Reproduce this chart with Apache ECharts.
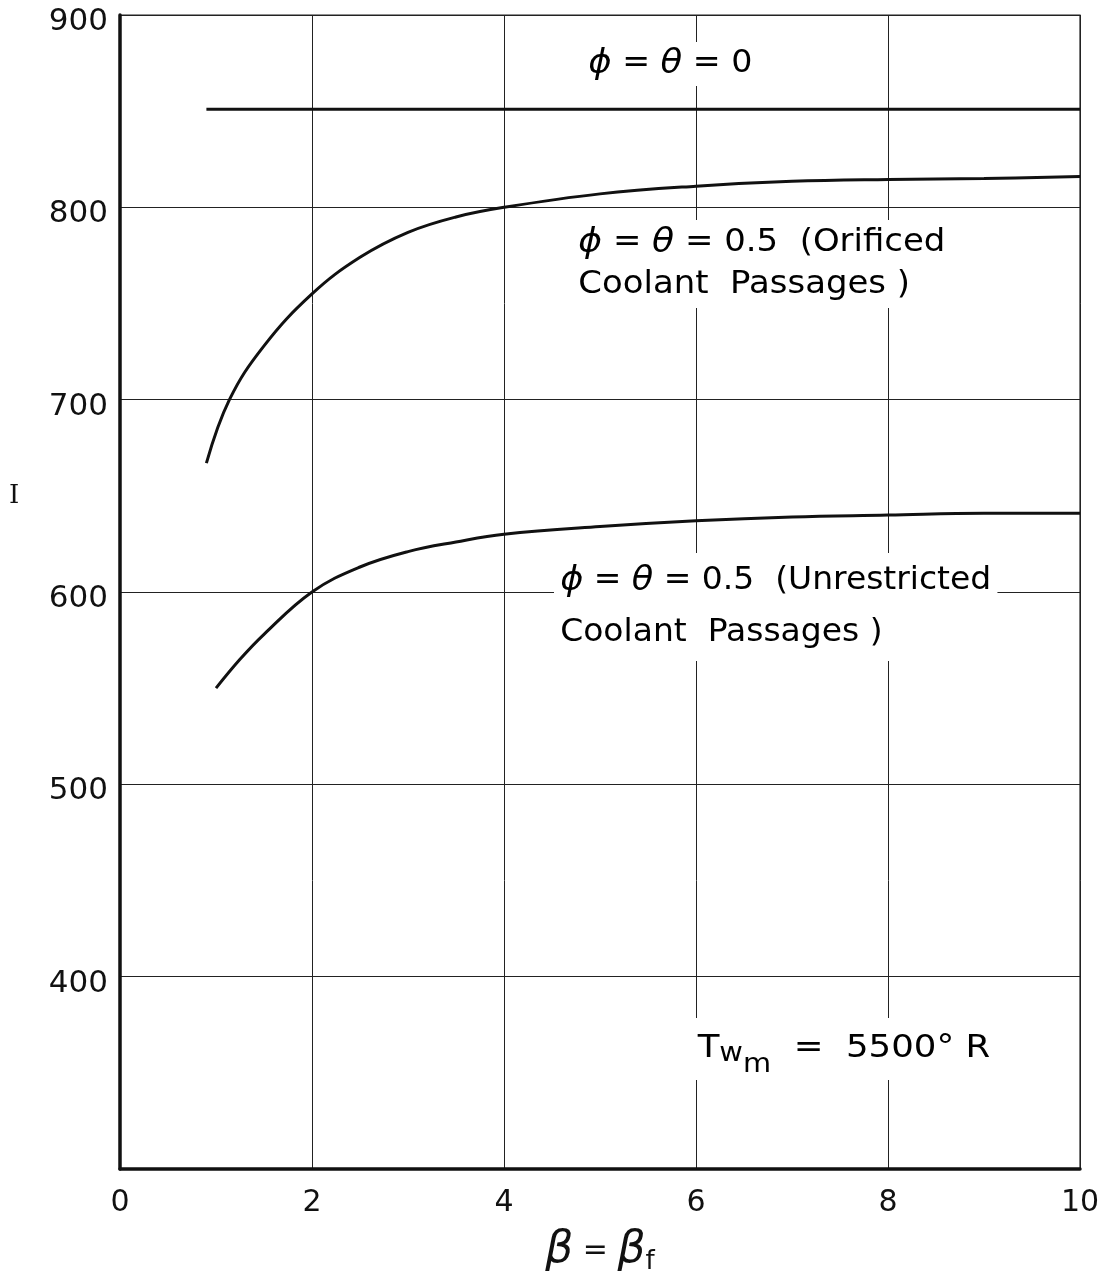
<!DOCTYPE html>
<html>
<head>
<meta charset="utf-8">
<script src="https://cdn.jsdelivr.net/npm/echarts@6/dist/echarts.min.js"></script>
<style>
  html, body { margin: 0; padding: 0; background: #fff; }
  #chart { width: 1114px; height: 1280px; }
</style>
</head>
<body>
<div id="chart"></div>
<script>
// Specific impulse I versus beta = beta_f for three cooling cases
const xTicks = [0, 2, 4, 6, 8, 10];
const yTicks = [400, 500, 600, 700, 800, 900];

const betaZero = [0.9, 10];
const iZero = [851, 851];

const betaOrificed = [0.9, 1.14, 1.5, 2, 2.5, 3, 3.5, 4, 5, 6, 7, 8, 9, 10];
const iOrificed = [667, 700, 728, 755, 774, 787, 795, 800, 807, 811, 813.5, 814.5, 815, 816];

const betaUnrestricted = [1, 1.25, 1.5, 2, 2.5, 3, 3.5, 4, 5, 6, 7, 8, 9, 10];
const iUnrestricted = [550, 565, 578, 600, 613, 621, 626, 630, 634, 637, 639, 640, 641, 641];

const pairs = (xs, ys) => xs.map((x, i) => [x, ys[i]]);

const FONT = '"DejaVu Sans", sans-serif';
const INK = '#111';
const chart = echarts.init(document.getElementById('chart'));

const lineSeries = (data) => ({
  type: 'line',
  data: data,
  smooth: 0.4,
  showSymbol: false,
  lineStyle: { color: INK, width: 3 },
  z: 3
});

// shared rich styles for the curve annotations
const noteRich = {
  n: { fontSize: 32, fontFamily: FONT, color: INK },
  g: { fontSize: 34, fontFamily: FONT, fontStyle: 'italic', color: INK }
};

const note = (left, top, text, lineHeight, stretch) => ({
  type: 'text', left: left, top: top, z: 10,
  scaleX: stretch || 1,
  style: {
    text: text,
    backgroundColor: '#fff',
    padding: [2, 6],
    lineHeight: lineHeight,
    rich: Object.fromEntries(Object.entries(noteRich).map(([k, v]) => [k, Object.assign({ lineHeight: lineHeight }, v)]))
  }
});

chart.setOption({
  animation: false,
  backgroundColor: '#fff',
  grid: {
    left: 120, right: 34, top: 15, bottom: 111,
    outerBoundsMode: 'none',
    containLabel: false,
    show: true, borderColor: '#222', borderWidth: 1.2
  },
  xAxis: {
    type: 'value', min: 0, max: 10, interval: 2,
    axisLine: { show: true, onZero: false, lineStyle: { color: INK, width: 3.5 } },
    axisTick: { show: false },
    splitLine: { show: true, lineStyle: { color: '#222', width: 1 } },
    axisLabel: {
      margin: 19, color: INK, fontSize: 30, fontFamily: FONT,
      formatter: v => xTicks.includes(v) ? String(v) : ''
    },
    name: '{b|β}{eq| = }{b|β}{s|f}',
    nameLocation: 'middle',
    nameGap: 58,
    nameTextStyle: {
      rich: {
        b: { fontSize: 44, fontStyle: 'italic', fontFamily: FONT, color: INK },
        eq: { fontSize: 30, fontFamily: FONT, color: INK },
        s: { fontSize: 26, fontFamily: FONT, color: INK, verticalAlign: 'bottom', padding: [22, 0, 0, 0] }
      }
    }
  },
  yAxis: {
    type: 'value', min: 300, max: 900, interval: 100,
    axisLine: { show: true, lineStyle: { color: INK, width: 3.5 } },
    axisTick: { show: false },
    splitLine: { show: true, lineStyle: { color: '#222', width: 1 } },
    axisLabel: {
      margin: 12,
      formatter: v => yTicks.includes(v) ? '{v|' + v + '}' : '',
      rich: {
        v: { color: INK, fontSize: 31, fontFamily: FONT, padding: [14, 0, 0, 0] }
      }
    }
  },
  series: [
    lineSeries(pairs(betaZero, iZero)),
    lineSeries(pairs(betaOrificed, iOrificed)),
    lineSeries(pairs(betaUnrestricted, iUnrestricted))
  ],
  graphic: [
    // axis title for the vertical axis
    { type: 'text', left: 9, top: 483, z: 10,
      style: { text: 'I', font: '26px "DejaVu Serif", serif', fill: INK } },
    note(582, 42, '{g|ϕ}{n| = }{g|θ}{n| = 0}', 40, 1.04),
    note(572, 220, '{g|ϕ}{n| = }{g|θ}{n| = 0.5  (Orificed}\n{n|Coolant  Passages )}', 42, 1.06),
    note(554, 553, '{g|ϕ}{n| = }{g|θ}{n| = 0.5  (Unrestricted}\n{n|Coolant  Passages )}', 52, 1.03),
    { type: 'text', left: 691, top: 1018, z: 10,
      scaleX: 1.11,
      style: {
        text: '{t|T}{w|w}{m|m}{t|  =  5500° R}',
        backgroundColor: '#fff',
        padding: [2, 6],
        rich: {
          t: { fontSize: 32, fontFamily: FONT, color: INK },
          w: { fontSize: 26, fontFamily: FONT, color: INK, padding: [10, 0, 0, 0] },
          m: { fontSize: 26, fontFamily: FONT, color: INK, padding: [32, 0, 0, 0] }
        }
      } }
  ]
});
</script>
</body>
</html>
